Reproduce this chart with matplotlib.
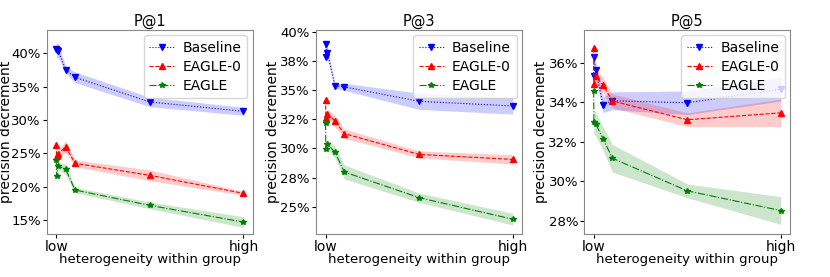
import numpy as np
import matplotlib.pyplot as plt
from matplotlib.ticker import FuncFormatter, MultipleLocator

# heterogeneity levels (0 = low, 1 = high)
x = [0, 0.001, 0.01, 0.05, 0.1, 0.5, 1.0]

# P@1
p1_base = [40.7, 40.5, 40.4, 37.5, 36.4, 32.7, 31.3]
p1_base_std = [1.3, 1.2, 1.0, 0.5, 0.8, 0.7, 0.6]
p1_e0 = [26.2, 24.6, 24.9, 26.0, 23.5, 21.7, 19.0]
p1_e0_std = [0.7, 0.6, 0.6, 0.9, 0.5, 0.8, 0.3]
p1_eagle = [24.0, 21.6, 23.1, 22.6, 19.5, 17.2, 14.7]
p1_eagle_std = [0.5, 0.4, 0.5, 0.8, 0.4, 0.5, 0.8]

# P@3
p3_base = [37.9, 39.0, 38.2, 35.4, 35.3, 34.06, 33.66]
p3_base_std = [0.3, 0.4, 0.4, 0.2, 0.3, 0.7, 0.7]
p3_e0 = [34.2, 32.6, 33.0, 32.36, 31.28, 29.49, 29.06]
p3_e0_std = [0.4, 0.4, 0.4, 0.5, 0.4, 0.3, 0.4]
p3_eagle = [32.2, 29.97, 30.37, 29.69, 27.98, 25.77, 23.92]
p3_eagle_std = [0.3, 0.3, 0.4, 0.5, 0.6, 0.4, 0.5]

# P@5
p5_base = [35.33, 36.3, 35.65, 33.88, 34.08, 33.98, 34.67]
p5_base_std = [0.3, 0.3, 0.4, 0.4, 0.45, 0.6, 0.6]
p5_e0 = [36.73, 34.92, 35.33, 34.87, 34.07, 33.12, 33.47]
p5_e0_std = [0.3, 0.4, 0.4, 0.4, 0.35, 0.35, 0.7]
p5_eagle = [34.6, 33.0, 32.92, 32.17, 31.17, 29.52, 28.52]
p5_eagle_std = [0.1, 0.6, 0.6, 0.6, 0.7, 0.35, 0.7]

panels = [
    ("P@1", p1_base, p1_base_std, p1_e0, p1_e0_std, p1_eagle, p1_eagle_std, 5.0, (12.9, 43.5)),
    ("P@3", p3_base, p3_base_std, p3_e0, p3_e0_std, p3_eagle, p3_eagle_std, 2.5, (22.64, 40.2)),
    ("P@5", p5_base, p5_base_std, p5_e0, p5_e0_std, p5_eagle, p5_eagle_std, 2.0, (27.33, 37.67)),
]

fig = plt.figure(figsize=(8.3, 2.77), dpi=100)
lefts = [0.0566, 0.381, 0.704]
label_x = [-0.165, -0.178, -0.178]

for i, (title, b, bs, e0, e0s, e, es, step, ylim) in enumerate(panels):
    ax = fig.add_axes([lefts[i], 0.155, 0.248, 0.737])
    series = [
        (b, bs, "b", ":", "v", "Baseline"),
        (e0, e0s, "r", "--", "^", "EAGLE-0"),
        (e, es, "g", "-.", "*", "EAGLE"),
    ]
    for y, s, c, ls, m, lab in series:
        y = np.array(y)
        s = np.array(s)
        ax.plot(x, y, color=c, linestyle=ls, marker=m, markersize=4, lw=0.8, label=lab)
        ax.fill_between(x, y - s, y + s, color=c, alpha=0.2, lw=0)
    ax.set_title(title, fontsize=10.5, pad=3)
    ax.set_xticks([0, 1])
    ax.set_xticklabels(["low", "high"])
    ax.yaxis.set_major_locator(MultipleLocator(step))
    ax.yaxis.set_major_formatter(FuncFormatter(lambda v, p: "{:.0f}%".format(v)))
    ax.tick_params(labelsize=9.5, length=3, pad=1.5)
    ax.tick_params(axis="x", labelsize=10)
    ax.set_ylim(*ylim)
    ax.set_xlabel("heterogeneity within group", fontsize=9.5, labelpad=-1)
    ax.set_ylabel("precision decrement", fontsize=10)
    ax.yaxis.set_label_coords(label_x[i], 0.5)
    for sp in ax.spines.values():
        sp.set_color("#888888")
    ax.legend(loc="upper right", fontsize=10, labelspacing=0.35, handlelength=1.8,
              handletextpad=0.6, borderaxespad=0.4)

fig.savefig("out.png", dpi=100)
